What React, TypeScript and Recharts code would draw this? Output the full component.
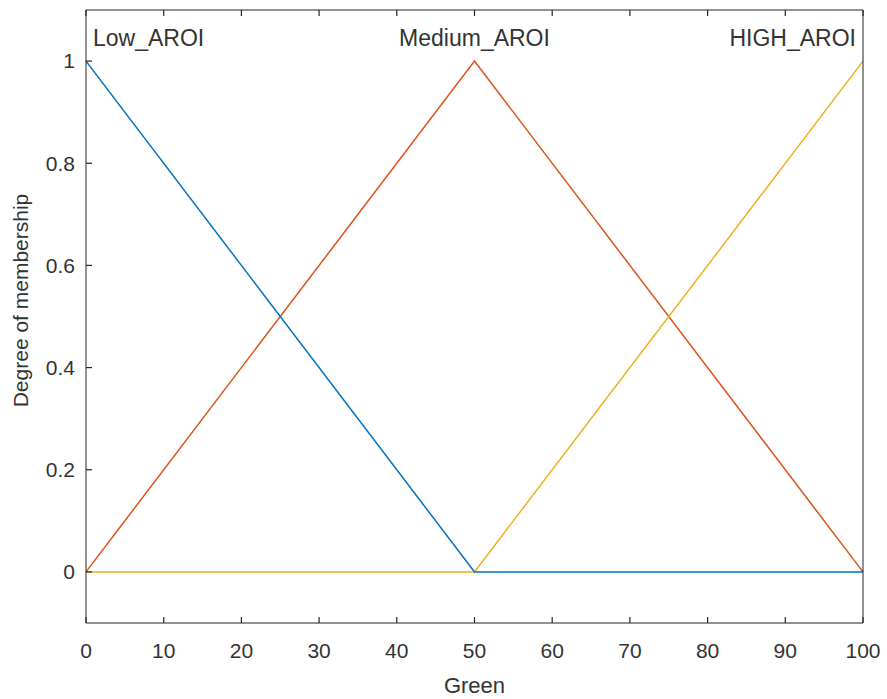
import { LineChart, Line, XAxis, YAxis, ReferenceDot } from "recharts";

const greenValues = [0, 50, 100];
const lowAroi = [1, 0, 0];
const mediumAroi = [0, 1, 0];
const highAroi = [0, 0, 1];
const xTicks = [0, 10, 20, 30, 40, 50, 60, 70, 80, 90, 100];
const yTicks = [0, 0.2, 0.4, 0.6, 0.8, 1];
const setNames = ["Low_AROI", "Medium_AROI", "HIGH_AROI"];

const data = greenValues.map((g, i) => ({
  green: g,
  low: lowAroi[i],
  medium: mediumAroi[i],
  high: highAroi[i],
}));

const FONT = "'Liberation Sans', Arial, Helvetica, sans-serif";
const INK = "#262626";
const TEXT = "#333333";
const TICK = 6;

// MATLAB-style inward ticks; x/y arrive at the axis line since tickSize/tickMargin are 0
const bottomTick = ({ x, y, payload }: any) => (
  <g>
    <line x1={x} y1={y} x2={x} y2={y - TICK} stroke={INK} strokeWidth={1.2} />
    <text x={x} y={y + 35} textAnchor="middle" fontSize={21} fill={TEXT} fontFamily={FONT}>
      {payload.value}
    </text>
  </g>
);
const topTick = ({ x, y }: any) => (
  <line x1={x} y1={y} x2={x} y2={y + TICK} stroke={INK} strokeWidth={1.2} />
);
const leftTick = ({ x, y, payload }: any) => (
  <g>
    <line x1={x} y1={y} x2={x + TICK} y2={y} stroke={INK} strokeWidth={1.2} />
    <text x={x - 11} y={y} dy="0.35em" textAnchor="end" fontSize={21} fill={TEXT} fontFamily={FONT}>
      {payload.value}
    </text>
  </g>
);
const rightTick = ({ x, y }: any) => (
  <line x1={x} y1={y} x2={x - TICK} y2={y} stroke={INK} strokeWidth={1.2} />
);

const anchors = ["start", "middle", "end"];
const offsets = [7, 0, -7];

export default function App() {
  return (
    <div style={{ position: "absolute", left: 0, top: 0, background: "#fff" }}>
      <LineChart
        width={887}
        height={699}
        data={data}
        margin={{ top: 9, right: 23, left: 0, bottom: 0 }}
      >
        <XAxis
          dataKey="green"
          type="number"
          domain={[0, 100]}
          ticks={xTicks}
          height={76}
          stroke={INK}
          tickLine={false}
          tickSize={0}
          tickMargin={0}
          tick={bottomTick}
          label={{ value: "Green", position: "insideBottom", offset: 6, fill: TEXT, fontSize: 22, fontFamily: FONT }}
        />
        <XAxis
          xAxisId="top"
          orientation="top"
          dataKey="green"
          type="number"
          domain={[0, 100]}
          ticks={xTicks}
          height={1}
          stroke={INK}
          tickLine={false}
          tickSize={0}
          tickMargin={0}
          tick={topTick}
        />
        <YAxis
          type="number"
          domain={[-0.1, 1.1]}
          ticks={yTicks}
          width={86}
          stroke={INK}
          tickLine={false}
          tickSize={0}
          tickMargin={0}
          tick={leftTick}
          label={{
            content: ({ viewBox }: any) => {
              const cx = 21;
              const cy = viewBox.y + viewBox.height / 2 - 16;
              return (
                <text
                  x={cx}
                  y={cy}
                  transform={`rotate(-90 ${cx} ${cy})`}
                  textAnchor="middle"
                  dy="0.35em"
                  fill={TEXT}
                  fontSize={21}
                  fontFamily={FONT}
                >
                  Degree of membership
                </text>
              );
            },
          }}
        />
        <YAxis
          yAxisId="right"
          orientation="right"
          type="number"
          domain={[-0.1, 1.1]}
          ticks={yTicks}
          width={1}
          stroke={INK}
          tickLine={false}
          tickSize={0}
          tickMargin={0}
          tick={rightTick}
        />
        <Line dataKey="medium" type="linear" stroke="#D95319" strokeWidth={1.5} dot={false} isAnimationActive={false} />
        <Line dataKey="high" type="linear" stroke="#EDB120" strokeWidth={1.5} dot={false} isAnimationActive={false} />
        <Line dataKey="low" type="linear" stroke="#0072BD" strokeWidth={1.5} dot={false} isAnimationActive={false} />
        {setNames.map((name, i) => (
          <ReferenceDot
            key={name}
            x={greenValues[i]}
            y={1.045}
            r={0}
            shape={(p: any) => (
              <text
                x={p.cx + offsets[i]}
                y={p.cy}
                dy="0.35em"
                textAnchor={anchors[i]}
                fontSize={23}
                fill={TEXT}
                fontFamily={FONT}
              >
                {name}
              </text>
            )}
          />
        ))}
      </LineChart>
    </div>
  );
}
